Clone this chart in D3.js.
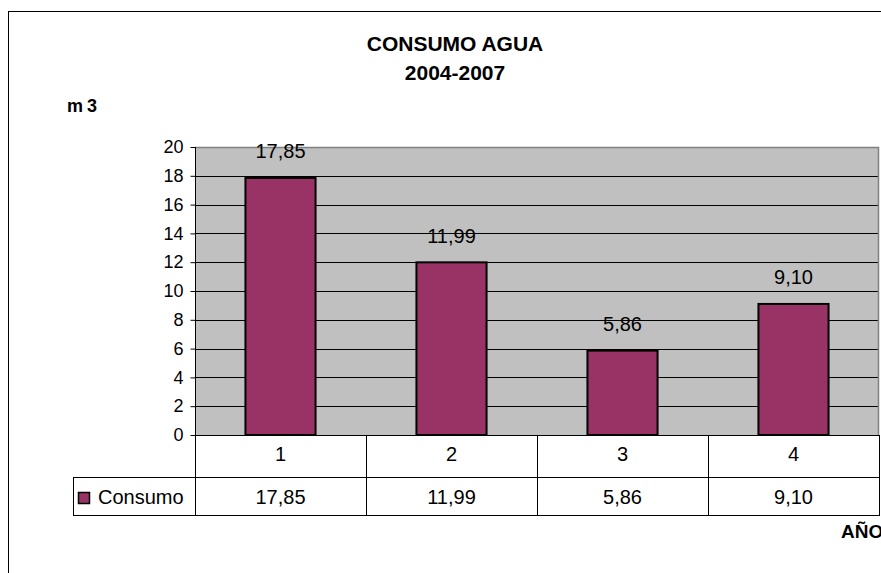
<!DOCTYPE html>
<html><head><meta charset="utf-8">
<script src="https://cdn.jsdelivr.net/npm/d3@7"></script>
<style>body{margin:0;background:#fff}svg{display:block;font-family:Arial,"Liberation Sans",sans-serif}</style>
</head><body>
<svg id="c" width="881" height="573"></svg>
<script>
const categories = ["1", "2", "3", "4"];
const consumo = [17.85, 11.99, 5.86, 9.10];
const seriesName = "Consumo";
const yTickValues = [0, 2, 4, 6, 8, 10, 12, 14, 16, 18, 20];
const titleLines = ["CONSUMO AGUA", "2004-2007"];
const yAxisTitle = "m3";
const xAxisTitle = "AÑOS";

const svg = d3.select("#c");
const fmt = d3.formatLocale({decimal: ",", thousands: ".", grouping: [3], currency: ["", "€"]}).format(".2f");

const L = 195, R = 879, T = 147, B = 435;
const row1B = 477, row2B = 515, legL = 73;
const barColor = "#993366";

// outer frame
svg.append("rect").attr("x", 8.5).attr("y", 11.5).attr("width", 1000).attr("height", 1000)
  .attr("fill", "none").attr("stroke", "#000").attr("stroke-width", 1);

const x = d3.scaleBand().domain(categories).range([L, R]).padding(0);
const y = d3.scaleLinear().domain([0, 20]).range([B, T]);
const barW = x.bandwidth() * 0.41;

// plot area
svg.append("rect").attr("x", L).attr("y", T).attr("width", R - L).attr("height", B - T)
  .attr("fill", "#c0c0c0");

// gridlines
svg.append("g").selectAll("line").data(yTickValues.filter(v => v > 0 && v < 20)).join("line")
  .attr("x1", L).attr("x2", R).attr("y1", d => Math.round(y(d)) + 0.5).attr("y2", d => Math.round(y(d)) + 0.5)
  .attr("stroke", "#000").attr("stroke-width", 1);

// plot border top/right (gray)
svg.append("path").attr("d", `M${L},${T + 0.5}H${R - 0.5}V${B}`).attr("fill", "none")
  .attr("stroke", "#808080").attr("stroke-width", 1.5);

// bars
svg.append("g").selectAll("rect").data(consumo).join("rect")
  .attr("x", (d, i) => x(categories[i]) + (x.bandwidth() - barW) / 2)
  .attr("y", d => y(d))
  .attr("width", barW)
  .attr("height", d => y(0) - y(d))
  .attr("fill", barColor).attr("stroke", "#000").attr("stroke-width", 2);

// data labels
svg.append("g").selectAll("text").data(consumo).join("text")
  .attr("x", (d, i) => x(categories[i]) + x.bandwidth() / 2)
  .attr("y", d => y(d) - 19.5)
  .attr("text-anchor", "middle").attr("font-size", 20).attr("fill", "#000")
  .text(d => fmt(d));

// y axis
const yAxis = d3.axisLeft(y).tickValues(yTickValues).tickSize(5).tickPadding(7).tickFormat(d3.format("d"));
const gy = svg.append("g").attr("transform", `translate(${L + 0.5},0)`).call(yAxis);
gy.select(".domain").attr("stroke", "#000").attr("d", `M0,${T}V${B}`);
gy.selectAll(".tick line").attr("stroke", "#000");
gy.selectAll(".tick text").attr("font-size", 18).attr("fill", "#000").attr("font-family", "Arial, 'Liberation Sans', sans-serif");

// data table
const tg = svg.append("g").attr("stroke", "#000").attr("stroke-width", 1).attr("fill", "none");
tg.append("line").attr("x1", L).attr("x2", R).attr("y1", B + 0.5).attr("y2", B + 0.5);
tg.append("line").attr("x1", legL).attr("x2", R).attr("y1", row1B + 0.5).attr("y2", row1B + 0.5);
tg.append("line").attr("x1", legL).attr("x2", R).attr("y1", row2B + 0.5).attr("y2", row2B + 0.5);
tg.append("line").attr("x1", legL + 0.5).attr("x2", legL + 0.5).attr("y1", row1B).attr("y2", row2B + 1);
tg.selectAll("line.v").data(categories.concat(["end"])).join("line").attr("class", "v")
  .attr("x1", (d, i) => Math.round(i < categories.length ? x(d) : R) + 0.5)
  .attr("x2", (d, i) => Math.round(i < categories.length ? x(d) : R) + 0.5)
  .attr("y1", B).attr("y2", row2B + 1);

svg.append("g").selectAll("text").data(categories).join("text")
  .attr("x", d => x(d) + x.bandwidth() / 2).attr("y", 461)
  .attr("text-anchor", "middle").attr("font-size", 20).text(d => d);
svg.append("g").selectAll("text").data(consumo).join("text")
  .attr("x", (d, i) => x(categories[i]) + x.bandwidth() / 2).attr("y", 504)
  .attr("text-anchor", "middle").attr("font-size", 20).text(d => fmt(d));

// legend key
svg.append("rect").attr("x", 78.5).attr("y", 492.5).attr("width", 11).attr("height", 11)
  .attr("fill", barColor).attr("stroke", "#000").attr("stroke-width", 1.5);
svg.append("text").attr("x", 98).attr("y", 504).attr("font-size", 20).text(seriesName);

// titles
svg.append("g").selectAll("text").data(titleLines).join("text")
  .attr("x", 455).attr("y", (d, i) => 51 + i * 29)
  .attr("text-anchor", "middle").attr("font-size", 21).attr("font-weight", "bold").text(d => d);
svg.append("text").attr("x", 67).attr("y", 112).attr("font-size", 18).attr("font-weight", "bold")
  .attr("letter-spacing", 4).text(yAxisTitle);
svg.append("text").attr("x", 841).attr("y", 538).attr("font-size", 19).attr("font-weight", "bold").text(xAxisTitle);
</script>
</body></html>
